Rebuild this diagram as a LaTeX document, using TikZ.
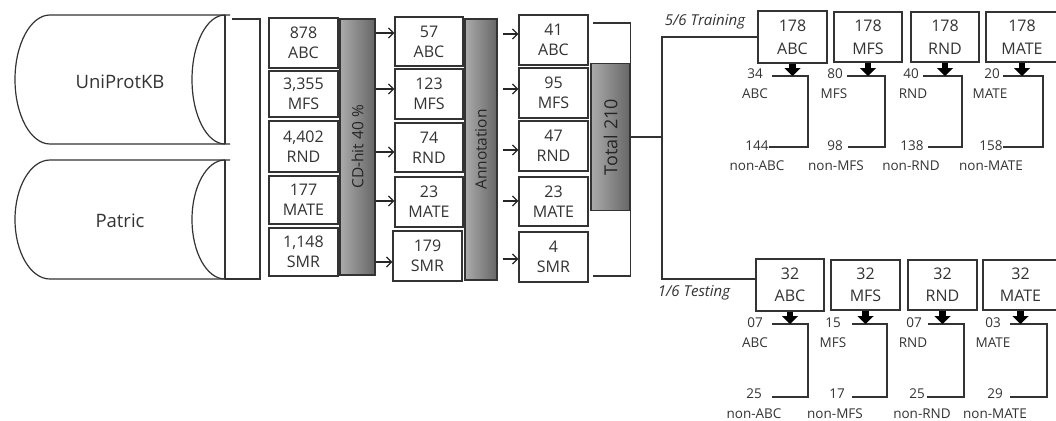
\documentclass[tikz,border=0pt]{standalone}
\usepackage{fontspec}
\setmainfont{Open Sans}
\usetikzlibrary{arrows.meta,calc}
\begin{document}
\begin{tikzpicture}[x=1pt,y=-1pt,
  ln/.style={line width=1.2pt, draw=black!80},
  box/.style={draw=black!80, line width=1.2pt, fill=white, text=black!80,
    font=\fontsize{16}{20}\selectfont, align=center, inner sep=0pt},
  tbox/.style={box, font=\fontsize{16}{23}\selectfont},
  sbox/.style={box, font=\fontsize{16}{22}\selectfont},
  bar/.style={draw=black!80, line width=1.2pt, left color=black!33, right color=black!60,
    text=black!85, inner sep=0pt},
  arr/.style={line width=1.3pt, draw=black!85, -{Straight Barb[length=5pt,width=10pt]}},
  blk/.style={line width=6.5pt, draw=black, -{Triangle[width=16pt,length=8pt]}},
  lbl/.style={font=\fontsize{13.5}{16}\selectfont, text=black!80, inner sep=0pt},
  dbtext/.style={font=\fontsize{18.5}{22}\selectfont, text=black!80},
  itl/.style={font=\fontsize{15}{18}\selectfont\itshape, text=black!80, inner sep=0pt}
]
\useasboundingbox (0,0) rectangle (1056,420);

% databases
\draw[ln] (230,15) -- (50,15) arc[start angle=270,end angle=90,x radius=35,y radius=64.5] -- (230,144);
\draw[ln] (225,15) -- (225,144);
\draw[ln] (225,15) arc[start angle=270,end angle=90,x radius=33,y radius=64.5];
\draw[ln] (230,160) -- (50,160) arc[start angle=270,end angle=90,x radius=35,y radius=59.5] -- (230,279);
\draw[ln] (225,160) -- (225,279);
\draw[ln] (225,160) arc[start angle=270,end angle=90,x radius=33,y radius=59.5];
\node[dbtext] (uni) at (120,82) {UniProtKB};
\node[dbtext] (pat) at (120,221) {Patric};
\coordinate (c1) at (232,19);
\coordinate (c2) at (225,279);
\coordinate (cv) at (260,150);
\draw[ln] (c1) -| (cv) |- (c2);

% column 1
\node[box, minimum width=69pt, minimum height=50pt] (b11) at (303.5,43) {878\\ABC};
\node[box, minimum width=69pt, minimum height=46pt] (b12) at (303.5,94) {3,355\\MFS};
\node[box, minimum width=69pt, minimum height=51pt] (b13) at (303.5,146.5) {4,402\\RND};
\node[box, minimum width=69pt, minimum height=48pt] (b14) at (303.5,200) {177\\MATE};
\node[box, minimum width=69pt, minimum height=48pt] (b15) at (303.5,252) {1,148\\SMR};
\node[bar, minimum width=35pt, minimum height=256pt] (cdhit) at (357.5,147) {\rotatebox{90}{\fontsize{15.5}{18}\selectfont CD-hit 40 \%}};

% column 2
\node[box, minimum width=68pt, minimum height=49pt] (b21) at (429,41.5) {57\\ABC};
\node[box, minimum width=68pt, minimum height=50pt] (b22) at (429,94) {123\\MFS};
\node[box, minimum width=68pt, minimum height=49pt] (b23) at (429,147.5) {74\\RND};
\node[box, minimum width=68pt, minimum height=50pt] (b24) at (429,202) {23\\MATE};
\node[box, minimum width=69pt, minimum height=50pt] (b25) at (427.5,256) {179\\SMR};
\node[bar, minimum width=32pt, minimum height=261pt] (annot) at (481,149.5) {\rotatebox{90}{\fontsize{15.5}{18}\selectfont Annotation}};

% column 3
\node[box, minimum width=69pt, minimum height=50pt] (b31) at (553.5,40) {41\\ABC};
\node[box, minimum width=69pt, minimum height=50pt] (b32) at (553.5,93) {95\\MFS};
\node[box, minimum width=69pt, minimum height=50pt] (b33) at (553.5,146) {47\\RND};
\node[box, minimum width=69pt, minimum height=49pt] (b34) at (553.5,201.5) {23\\MATE};
\node[box, minimum width=69pt, minimum height=50pt] (b35) at (553.5,257) {4\\SMR};
\node[bar, minimum width=39pt, minimum height=147pt] (total) at (610.5,137) {\rotatebox{90}{\fontsize{18}{20}\selectfont Total 210}};

% arrows col1 -> col2
\coordinate (a21) at ([yshift=8.5pt]b21.west);
\coordinate (a22) at ([yshift=5pt]b22.west);
\coordinate (a23) at ([yshift=-4.5pt]b23.west);
\coordinate (a24) at ([yshift=1pt]b24.west);
\coordinate (a25) at ([yshift=-6pt]b25.west);
\foreach \k in {21,22,23,24,25} \draw[arr] (cdhit.east |- a\k) -- (a\k);

% arrows col2 -> col3
\coordinate (a31) at ([yshift=6pt]b31.west);
\coordinate (a32) at ([yshift=4pt]b32.west);
\coordinate (a33) at ([yshift=-4pt]b33.west);
\coordinate (a34) at ([yshift=0.5pt]b34.west);
\coordinate (a35) at ([yshift=-2pt]b35.west);
\foreach \k in {31,32,33,34,35} {
  \coordinate (s\k) at ($(annot.east |- a\k)+(5,0)$);
  \draw[arr] (s\k) -- (a\k);
}

% bracket col3 -> total
\coordinate (tt) at (593,23);
\coordinate (tb) at (593,276);
\draw[ln] (tt) -| (tb -| total.east) -- (tb);

% split
\coordinate (split) at (662,137);
\draw[ln] (total.east) -- (split);

% training boxes
\node[tbox, minimum width=69pt, minimum height=52pt] (tr1) at (792.5,37) {178\\ABC};
\node[tbox, minimum width=68pt, minimum height=50pt] (tr2) at (868,37) {178\\MFS};
\node[tbox, minimum width=68pt, minimum height=50pt] (tr3) at (945,37) {178\\RND};
\node[tbox, minimum width=72pt, minimum height=50pt] (tr4) at (1022,37) {178\\MATE};
% testing boxes
\node[sbox, minimum width=68pt, minimum height=52pt] (te1) at (790,285) {32\\ABC};
\node[sbox, minimum width=69pt, minimum height=50pt] (te2) at (865.5,285) {32\\MFS};
\node[sbox, minimum width=69pt, minimum height=50pt] (te3) at (942.5,285) {32\\RND};
\node[sbox, minimum width=75pt, minimum height=50pt] (te4) at (1020.5,285) {32\\MATE};

\draw[ln] (tr1.west) -| (split) |- ([yshift=6pt]te1.west);
\node[itl] (trl) at (705,21.5) {5/6 Training};
\node[itl] (tel) at (694,293) {1/6 Testing};

% training outcome groups
\foreach \i/\nt/\xn/\nm/\xm/\nb/\xb/\nn/\xnn/\xl/\xlb/\xv in {
  1/34/755/ABC/755/144/757/non-ABC/757/772/769/808,
  2/80/835/MFS/834/98/835/non-MFS/836/847/848/885,
  3/40/911/RND/913/138/912/non-RND/911/923/928/962,
  4/20/992/MATE/990/158/991/non-MATE/991/1003/1003/1043} {
  \node[lbl] (trn\i) at (\xn,74) {\nt};
  \node[lbl] (trm\i) at (\xm,94) {\nm};
  \node[lbl] (trb\i) at (\xb,146) {\nb};
  \node[lbl] (trq\i) at (\xnn,166) {\nn};
  \coordinate (ta\i) at (\xl,76);
  \coordinate (tv\i) at (\xv,110);
  \coordinate (tw\i) at (\xlb,147);
  \draw[ln] (ta\i) -| (tv\i) |- (tw\i);
  \draw[blk] (tr\i.south) -- (tr\i.south |- ta\i);
}

% testing outcome groups
\foreach \i/\nt/\xn/\nm/\xm/\nb/\xb/\nn/\xnn/\xl/\xlb/\xv in {
  1/07/755/ABC/755/25/754/non-ABC/754/772/772/808,
  2/15/833/MFS/833/17/837/non-MFS/835/852/852/887,
  3/07/914/RND/913/25/917/non-RND/922/928/927/964,
  4/03/993/MATE/993/29/995/non-MATE/995/1010/1010/1047} {
  \node[lbl] (ten\i) at (\xn,323) {\nt};
  \node[lbl] (tem\i) at (\xm,343) {\nm};
  \node[lbl] (teb\i) at (\xb,394) {\nb};
  \node[lbl] (teq\i) at (\xnn,414) {\nn};
  \coordinate (sa\i) at (\xl,324);
  \coordinate (sv\i) at (\xv,360);
  \coordinate (sw\i) at (\xlb,397);
  \draw[ln] (sa\i) -| (sv\i) |- (sw\i);
  \draw[blk] (te\i.south) -- (te\i.south |- sa\i);
}
\end{tikzpicture}
\end{document}
